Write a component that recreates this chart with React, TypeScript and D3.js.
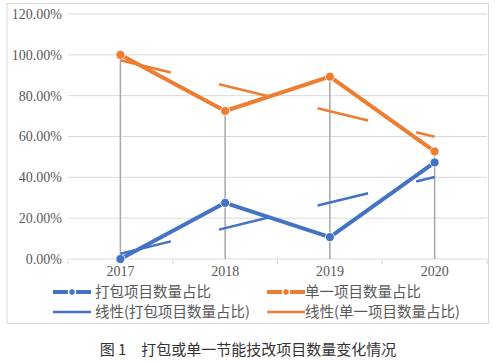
import * as d3 from 'd3';

const years = ['2017', '2018', '2019', '2020'];
const bundled = [0, 27.5, 10.7, 47.3];
const single = [100, 72.5, 89.3, 52.7];
const yTicks = [0, 20, 40, 60, 80, 100, 120];

const BLUE = '#4472C4';
const ORANGE = '#ED7D31';
const TEXT = '#595959';
const SERIF = 'Liberation Serif, DejaVu Serif, serif';
const CJK = 'Noto Sans CJK SC, sans-serif';

// least squares fit on x = 1..n, like Excel's linear trendline
function trend(vals: number[]) {
  const n = vals.length;
  const xs = vals.map((_, i) => i + 1);
  const mx = d3.mean(xs)!;
  const my = d3.mean(vals)!;
  const slope =
    d3.sum(xs, (x, i) => (x - mx) * (vals[i] - my)) / d3.sum(xs, (x) => (x - mx) ** 2);
  return [0, n - 1].map((i) => ({ i, v: my + slope * (i + 1 - mx) }));
}

export default function App() {
  const left = 68;
  const right = 487;
  const top = 14;
  const bottom = 259;

  const x = d3.scaleBand<string>().domain(years).range([left, right]);
  const cx = (i: number) => x(years[i])! + x.bandwidth() / 2;
  const y = d3.scaleLinear().domain([0, 120]).range([bottom, top]);

  const line = d3
    .line<number>()
    .x((_, i) => cx(i))
    .y((d) => y(d));

  const trendLine = d3
    .line<{ i: number; v: number }>()
    .x((d) => cx(d.i))
    .y((d) => y(d.v));

  const boundaries = years.map((yr) => x(yr)!).concat([right]);

  return (
    <svg
      width={500}
      height={361}
      style={{ position: 'absolute', left: 0, top: 0, background: '#fff' }}
    >
      <rect x={7} y={3.5} width={481.5} height={320} fill="#fff" stroke="#d9d9d9" strokeWidth={1} />

      {/* grid */}
      {yTicks.map((t) => (
        <g key={t}>
          {t > 0 && (
            <line x1={left} x2={right} y1={y(t)} y2={y(t)} stroke="#d9d9d9" strokeWidth={1} />
          )}
          <text
            x={62}
            y={y(t)}
            dy="0.35em"
            textAnchor="end"
            style={{ fontFamily: SERIF }}
            fontSize={14}
            fill={TEXT}
          >
            {t.toFixed(2)}%
          </text>
        </g>
      ))}

      {/* x axis */}
      <line x1={left} x2={right} y1={bottom} y2={bottom} stroke="#d9d9d9" strokeWidth={1} />
      {boundaries.map((b, i) => (
        <line key={i} x1={b} x2={b} y1={bottom} y2={bottom + 5} stroke="#d9d9d9" strokeWidth={1} />
      ))}
      {years.map((yr, i) => (
        <text
          key={yr}
          x={cx(i)}
          y={276}
          textAnchor="middle"
          style={{ fontFamily: SERIF }}
          fontSize={14}
          fill={TEXT}
        >
          {yr}
        </text>
      ))}

      {/* drop lines */}
      {years.map((yr, i) => (
        <line
          key={yr}
          x1={cx(i)}
          x2={cx(i)}
          y1={y(Math.max(bundled[i], single[i]))}
          y2={bottom}
          stroke="#a6a6a6"
          strokeWidth={1.5}
        />
      ))}

      {/* series */}
      {[
        { vals: bundled, color: BLUE },
        { vals: single, color: ORANGE },
      ].map((s) => (
        <g key={s.color}>
          <path d={line(s.vals)!} fill="none" stroke={s.color} strokeWidth={4} strokeLinejoin="round" />
          {s.vals.map((v, i) => (
            <circle key={i} cx={cx(i)} cy={y(v)} r={4.5} fill={s.color} stroke="#fff" strokeWidth={0.8} />
          ))}
        </g>
      ))}

      {/* trendlines */}
      {[
        { vals: bundled, color: BLUE },
        { vals: single, color: ORANGE },
      ].map((s) => (
        <path
          key={s.color + 't'}
          d={trendLine(trend(s.vals))!}
          fill="none"
          stroke={s.color}
          strokeWidth={2.5}
          strokeDasharray="52 49.5"
        />
      ))}

      {/* legend */}
      {[
        { lx: 53, tx: 95, color: BLUE, label: '打包项目数量占比' },
        { lx: 267, tx: 305, color: ORANGE, label: '单一项目数量占比' },
      ].map((l) => (
        <g key={l.label}>
          <line x1={l.lx} x2={l.lx + 38} y1={292} y2={292} stroke={l.color} strokeWidth={4} />
          <circle cx={l.lx + 19} cy={292} r={3.5} fill={l.color} stroke="#fff" strokeWidth={1.5} />
          <text x={l.tx} y={292} dy="0.35em" style={{ fontFamily: CJK }} fontSize={14.5} fill={TEXT}>
            {l.label}
          </text>
          <line x1={l.lx} x2={l.lx + 38} y1={312} y2={312} stroke={l.color} strokeWidth={2.5} />
          <text x={l.tx} y={312} dy="0.35em" style={{ fontFamily: CJK }} fontSize={14.5} fill={TEXT}>
            线性(
            {l.label})
          </text>
        </g>
      ))}

      {/* caption */}
      <text x={248} y={350} dy="0.35em" textAnchor="middle" style={{ fontFamily: CJK }} fontSize={15} fill="#333">
        图 1{'\u2003'}打包或单一节能技改项目数量变化情况
      </text>
    </svg>
  );
}
